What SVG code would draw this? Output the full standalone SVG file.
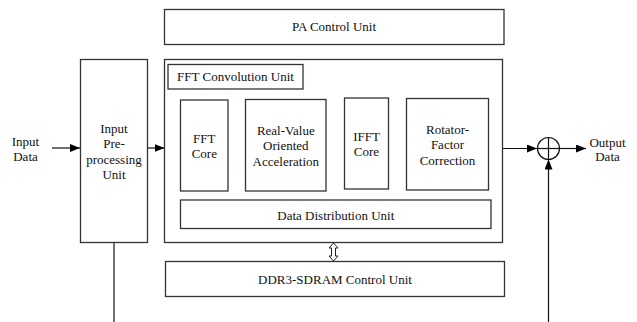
<svg xmlns="http://www.w3.org/2000/svg" width="637" height="322" viewBox="0 0 637 322" font-family="Liberation Serif, Times New Roman, serif">
<defs>
<style>
.box{fill:#fff;stroke:#333;stroke-width:1.3}
.t{font-size:13px;fill:#111;text-anchor:middle}
.ln{stroke:#111;stroke-width:1.2;fill:none}
</style>
<marker id="ah" viewBox="0 0 10 8" refX="10" refY="4" markerWidth="10" markerHeight="8" markerUnits="userSpaceOnUse" orient="auto">
<path d="M0,0 L10,4 L0,8 Z" fill="#000"/>
</marker>
</defs>
<rect width="637" height="322" fill="#fff"/>
<g id="connectors">
<line class="ln" x1="52" y1="148" x2="80" y2="148" marker-end="url(#ah)"/>
<line class="ln" x1="147" y1="148" x2="164.5" y2="148" marker-end="url(#ah)"/>
<line class="ln" x1="114" y1="242.5" x2="114" y2="322"/>
<line class="ln" x1="502.5" y1="148.5" x2="537" y2="148.5" marker-end="url(#ah)"/>
<line class="ln" x1="559.5" y1="148.5" x2="586" y2="148.5" marker-end="url(#ah)"/>
<line class="ln" x1="548.5" y1="322" x2="548.5" y2="159.5" marker-end="url(#ah)"/>
<polygon points="333.5,243 338,248 335.5,248 335.5,256 338,256 333.5,261 329,256 331.5,256 331.5,248 329,248" fill="#fff" stroke="#222" stroke-width="1"/>
</g>
<g id="input-label">
<text class="t" x="25.5" y="146">Input</text>
<text class="t" x="25.5" y="161">Data</text>
</g>
<g id="input-preprocessing">
<rect class="box" x="80.5" y="59.5" width="67" height="183"/>
<text class="t" x="114" y="133">Input</text>
<text class="t" x="114" y="148">Pre-</text>
<text class="t" x="114" y="164">processing</text>
<text class="t" x="114" y="179">Unit</text>
</g>
<g id="pa-control">
<rect class="box" x="164.5" y="9.5" width="339.5" height="35"/>
<text class="t" x="334" y="31">PA Control Unit</text>
</g>
<g id="fft-convolution">
<rect class="box" x="164.5" y="59.5" width="338" height="183"/>
<rect class="box" x="168" y="64.5" width="135" height="24.5"/>
<text class="t" x="235.5" y="81">FFT Convolution Unit</text>
</g>
<g id="fft-core">
<rect class="box" x="180.5" y="100" width="47.5" height="91"/>
<text class="t" x="204.3" y="142.5">FFT</text>
<text class="t" x="204.3" y="158">Core</text>
</g>
<g id="real-value">
<rect class="box" x="245.5" y="99.5" width="80.5" height="91.5"/>
<text class="t" x="285.8" y="135">Real-Value</text>
<text class="t" x="285.8" y="150">Oriented</text>
<text class="t" x="285.8" y="165.5">Acceleration</text>
</g>
<g id="ifft-core">
<rect class="box" x="344.5" y="98" width="44" height="91"/>
<text class="t" x="366.5" y="140.5">IFFT</text>
<text class="t" x="366.5" y="156">Core</text>
</g>
<g id="rotator">
<rect class="box" x="406.5" y="98.5" width="82" height="91.5"/>
<text class="t" x="447.5" y="133.5">Rotator-</text>
<text class="t" x="447.5" y="149">Factor</text>
<text class="t" x="447.5" y="164.5">Correction</text>
</g>
<g id="data-distribution">
<rect class="box" x="180.5" y="200" width="310.5" height="28.5"/>
<text class="t" x="335.8" y="219.5">Data Distribution Unit</text>
</g>
<g id="ddr3">
<rect class="box" x="165.5" y="261.5" width="339" height="35"/>
<text class="t" x="335" y="284">DDR3-SDRAM Control Unit</text>
</g>
<g id="adder">
<circle cx="548.5" cy="148.5" r="11" fill="#fff" stroke="#111" stroke-width="1.2"/>
<line class="ln" x1="537.5" y1="148.5" x2="559.5" y2="148.5"/>
<line class="ln" x1="548.5" y1="137.5" x2="548.5" y2="159.5"/>
</g>
<g id="output-label">
<text class="t" x="607.5" y="146.5">Output</text>
<text class="t" x="607.5" y="161">Data</text>
</g>
</svg>
